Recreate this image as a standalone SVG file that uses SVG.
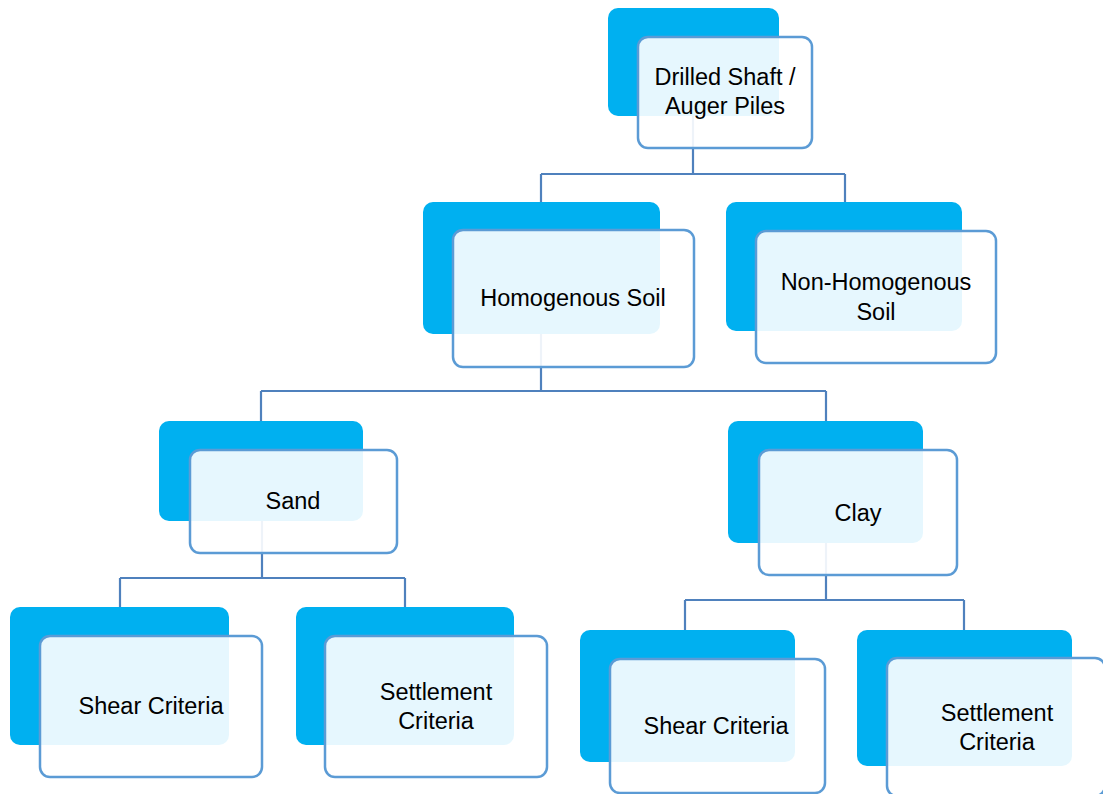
<svg xmlns="http://www.w3.org/2000/svg" width="1103" height="794" viewBox="0 0 1103 794">
  <style>
    .back { fill: #00B0F0; }
    .front { fill: #FFFFFF; fill-opacity: 0.9; stroke: #5B9BD5; stroke-width: 2.5; }
    .link { fill: none; stroke: #4F81BD; stroke-width: 2.2; }
    .label { font-family: "Liberation Sans", Arial, sans-serif; font-size: 23.5px; fill: #000000; text-anchor: middle; }
  </style>
  <rect width="1103" height="794" fill="#FFFFFF"/>

  <!-- connectors (drawn first so the translucent front boxes let them show faintly) -->
  <g id="connectors">
    <path class="link" d="M693 116 V174 M541 174 H845 M541 174 V202 M845 174 V202"/>
    <path class="link" d="M541 334 V391 M261 391 H826 M261 391 V421 M826 391 V421"/>
    <path class="link" d="M262 521 V578 M120 578 H405 M120 578 V607 M405 578 V607"/>
    <path class="link" d="M826 543 V600 M685 600 H964 M685 600 V630 M964 600 V630"/>
  </g>

  <g id="node-drilled-shaft">
    <rect class="back" x="608" y="8" width="171" height="108" rx="10"/>
    <rect class="front" x="638" y="37" width="174" height="111" rx="10"/>
    <text class="label" x="725" y="85">Drilled Shaft /</text>
    <text class="label" x="725" y="114">Auger Piles</text>
  </g>

  <g id="node-homogenous">
    <rect class="back" x="423" y="202" width="237" height="132" rx="10"/>
    <rect class="front" x="453" y="230" width="241" height="137" rx="10"/>
    <text class="label" x="573" y="306">Homogenous Soil</text>
  </g>

  <g id="node-non-homogenous">
    <rect class="back" x="726" y="202" width="236" height="129" rx="10"/>
    <rect class="front" x="756" y="231" width="240" height="132" rx="10"/>
    <text class="label" x="876" y="290">Non-Homogenous</text>
    <text class="label" x="876" y="320">Soil</text>
  </g>

  <g id="node-sand">
    <rect class="back" x="159" y="421" width="204" height="100" rx="10"/>
    <rect class="front" x="190" y="450" width="207" height="103" rx="10"/>
    <text class="label" x="293" y="509">Sand</text>
  </g>

  <g id="node-clay">
    <rect class="back" x="728" y="421" width="195" height="122" rx="10"/>
    <rect class="front" x="759" y="450" width="198" height="125" rx="10"/>
    <text class="label" x="858" y="521">Clay</text>
  </g>

  <g id="node-sand-shear">
    <rect class="back" x="10" y="607" width="219" height="138" rx="10"/>
    <rect class="front" x="40" y="636" width="222" height="141" rx="10"/>
    <text class="label" x="151" y="714">Shear Criteria</text>
  </g>

  <g id="node-sand-settlement">
    <rect class="back" x="296" y="607" width="218" height="138" rx="10"/>
    <rect class="front" x="325" y="636" width="222" height="141" rx="10"/>
    <text class="label" x="436" y="700">Settlement</text>
    <text class="label" x="436" y="729">Criteria</text>
  </g>

  <g id="node-clay-shear">
    <rect class="back" x="580" y="630" width="215" height="132" rx="10"/>
    <rect class="front" x="610" y="659" width="215" height="134" rx="10"/>
    <text class="label" x="716" y="734">Shear Criteria</text>
  </g>

  <g id="node-clay-settlement">
    <rect class="back" x="857" y="630" width="215" height="136" rx="10"/>
    <rect class="front" x="887" y="658" width="218" height="138" rx="10"/>
    <text class="label" x="997" y="721">Settlement</text>
    <text class="label" x="997" y="750">Criteria</text>
  </g>
</svg>
